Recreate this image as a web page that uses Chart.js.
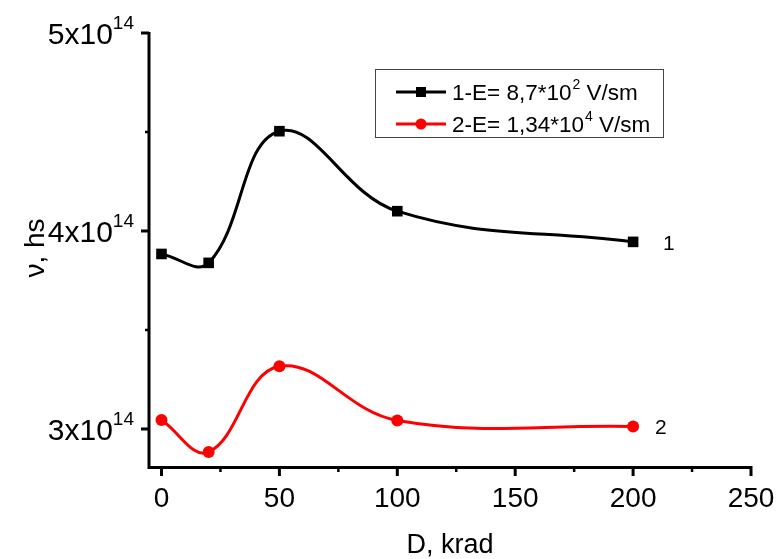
<!DOCTYPE html>
<html>
<head>
<meta charset="utf-8">
<script src="https://cdn.jsdelivr.net/npm/chart.js@4"></script>
<style>
  html, body { margin: 0; padding: 0; background: #fff; }
  #wrap { width: 781px; height: 559px; }
</style>
</head>
<body>
<div id="wrap"><canvas id="myChart" width="781" height="559"></canvas></div>
<script>
var doses = [0, 20, 50, 100, 200];
var series1 = [3.884e14, 3.839e14, 4.504e14, 4.10e14, 3.945e14];
var series2 = [3.045e14, 2.884e14, 3.317e14, 3.043e14, 3.013e14];
var xMajor = [0, 50, 100, 150, 200, 250];
var xMinor = [25, 75, 125, 175, 225];
var yMajor = [3, 4, 5];
var yMinor = [3.5, 4.5];
var legendText = [["1-E= 8,7*10", "2", " V/sm"], ["2-E= 1,34*10", "4", " V/sm"]];
var curveLabels = ["1", "2"];

var FONT = "'Liberation Sans', Arial, sans-serif";

function toPoints(ys) {
  return doses.map(function (d, i) { return { x: d, y: ys[i] }; });
}

var axesPlugin = {
  id: "axes",
  afterDraw: function (chart) {
    var c = chart.ctx;
    var xs = chart.scales.x;
    var ys = chart.scales.y;
    var area = chart.chartArea;
    c.save();
    c.strokeStyle = "#000";
    c.fillStyle = "#000";
    c.lineCap = "butt";

    // axis lines
    c.lineWidth = 3;
    c.beginPath();
    c.moveTo(area.left, area.top - 1);
    c.lineTo(area.left, area.bottom + 1.5);
    c.lineTo(area.right + 1, area.bottom + 1.5);
    c.stroke();

    // x ticks
    xMajor.forEach(function (v) {
      var px = xs.getPixelForValue(v);
      c.beginPath(); c.moveTo(px, area.bottom); c.lineTo(px, area.bottom + 10); c.stroke();
    });
    c.lineWidth = 2.5;
    xMinor.forEach(function (v) {
      var px = xs.getPixelForValue(v);
      c.beginPath(); c.moveTo(px, area.bottom); c.lineTo(px, area.bottom + 6); c.stroke();
    });
    // y ticks
    c.lineWidth = 3;
    yMajor.forEach(function (v) {
      var py = ys.getPixelForValue(v * 1e14);
      c.beginPath(); c.moveTo(area.left, py); c.lineTo(area.left - 8, py); c.stroke();
    });
    c.lineWidth = 2.5;
    yMinor.forEach(function (v) {
      var py = ys.getPixelForValue(v * 1e14);
      c.beginPath(); c.moveTo(area.left, py); c.lineTo(area.left - 4, py); c.stroke();
    });

    // x tick labels
    c.font = "28px " + FONT;
    c.textAlign = "center";
    c.textBaseline = "alphabetic";
    xMajor.forEach(function (v) {
      c.fillText(String(v), xs.getPixelForValue(v), area.bottom + 41);
    });

    // y tick labels with superscript
    yMajor.forEach(function (v) {
      var py = ys.getPixelForValue(v * 1e14);
      c.font = "19px " + FONT;
      var supW = c.measureText("14").width;
      c.textAlign = "right";
      c.fillText("14", 134, py - 4);
      c.font = "30px " + FONT;
      c.fillText(v + "x10", 134 - supW, py + 11);
    });

    // axis titles
    c.font = "27px " + FONT;
    c.textAlign = "center";
    c.fillText("D, krad", (area.left + area.right) / 2, 553);
    c.save();
    c.translate(44, 248);
    c.rotate(-Math.PI / 2);
    c.font = "28px " + FONT;
    c.fillText("\u03bd, hs", 0, 0);
    c.restore();

    // curve labels
    c.font = "21px " + FONT;
    c.textAlign = "left";
    c.textBaseline = "middle";
    var last = doses.length - 1;
    c.fillText(curveLabels[0], xs.getPixelForValue(doses[last]) + 30, ys.getPixelForValue(series1[last]) + 2);
    c.fillText(curveLabels[1], xs.getPixelForValue(doses[last]) + 22, ys.getPixelForValue(series2[last]) + 2);

    // legend
    c.lineWidth = 1;
    c.strokeStyle = "#444";
    c.strokeRect(375.5, 69.5, 288, 68);
    var colors = ["#000000", "#ff0000"];
    var rowsY = [92, 124];
    for (var i = 0; i < 2; i++) {
      var y = rowsY[i];
      c.strokeStyle = colors[i];
      c.fillStyle = colors[i];
      c.lineWidth = 3;
      c.beginPath(); c.moveTo(396, y); c.lineTo(446, y); c.stroke();
      if (i === 0) {
        c.fillRect(416, y - 5, 10, 10);
      } else {
        c.beginPath(); c.arc(421, y, 5.5, 0, Math.PI * 2); c.fill();
      }
      c.fillStyle = "#000";
      c.textBaseline = "alphabetic";
      c.textAlign = "left";
      c.font = "22.5px " + FONT;
      var t = legendText[i];
      var x0 = 452;
      c.fillText(t[0], x0, y + 8);
      x0 += c.measureText(t[0]).width;
      c.font = "14px " + FONT;
      c.fillText(t[1], x0 + 1, y - 3);
      x0 += c.measureText(t[1]).width + 1;
      c.font = "22.5px " + FONT;
      c.fillText(t[2], x0, y + 8);
    }
    c.restore();
  }
};

var ctx = document.getElementById("myChart").getContext("2d");
var myChart = new Chart(ctx, {
  type: "line",
  data: {
    datasets: [
      {
        label: "1",
        data: toPoints(series1),
        borderColor: "#000000",
        backgroundColor: "#000000",
        borderWidth: 3,
        pointStyle: "rect",
        pointRadius: 7.5,
        pointBorderWidth: 0,
        tension: 0.4,
      },
      {
        label: "2",
        data: toPoints(series2),
        borderColor: "#ff0000",
        backgroundColor: "#ff0000",
        borderWidth: 3,
        pointStyle: "circle",
        pointRadius: 6,
        pointBorderWidth: 0,
        tension: 0.4,
      },
    ],
  },
  options: {
    responsive: false,
    animation: false,
    layout: { padding: { left: 149, right: 30, top: 33, bottom: 93 } },
    plugins: { legend: { display: false }, tooltip: { enabled: false } },
    scales: {
      x: { type: "linear", min: -5.3, max: 250, display: false },
      y: { type: "linear", min: 2.813e14, max: 5e14, display: false },
    },
  },
  plugins: [axesPlugin],
});
</script>
</body>
</html>
